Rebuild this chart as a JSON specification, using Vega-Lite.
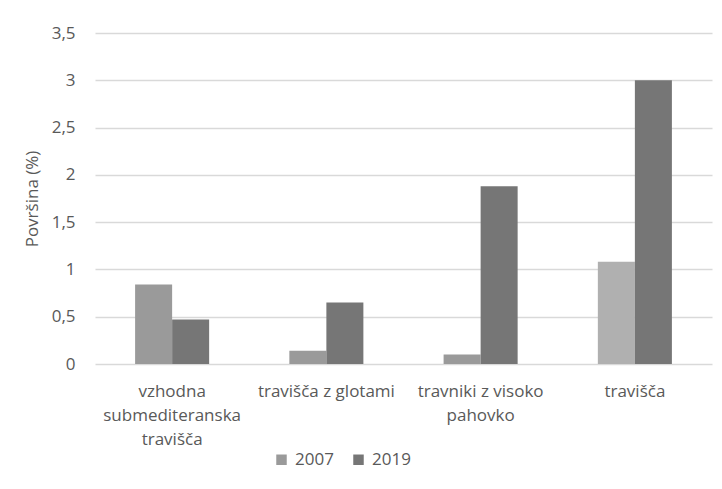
{
  "$schema": "https://vega.github.io/schema/vega-lite/v6.json",
  "width": 617,
  "height": 331,
  "autosize": {"type": "none"},
  "padding": {"left": 95, "top": 33, "right": 10, "bottom": 125},
  "background": "white",
  "data": {
    "values": [
      {"kategorija": "vzhodna submediteranska travišča", "leto": "2007", "povrsina": 0.84},
      {"kategorija": "vzhodna submediteranska travišča", "leto": "2019", "povrsina": 0.47},
      {"kategorija": "travišča z glotami", "leto": "2007", "povrsina": 0.14},
      {"kategorija": "travišča z glotami", "leto": "2019", "povrsina": 0.65},
      {"kategorija": "travniki z visoko pahovko", "leto": "2007", "povrsina": 0.10},
      {"kategorija": "travniki z visoko pahovko", "leto": "2019", "povrsina": 1.88},
      {"kategorija": "travišča", "leto": "2007", "povrsina": 1.08},
      {"kategorija": "travišča", "leto": "2019", "povrsina": 3.0}
    ]
  },
  "mark": {"type": "bar"},
  "encoding": {
    "x": {
      "field": "kategorija",
      "type": "nominal",
      "sort": null,
      "title": null,
      "scale": {"paddingInner": 0.52, "paddingOuter": 0.26},
      "axis": {
        "labelAngle": 0,
        "domain": false,
        "ticks": false,
        "labelPadding": 19,
        "labelFont": "Open Sans",
        "labelFontSize": 17,
        "labelColor": "#595959",
        "labelLineHeight": 24,
        "labelLimit": 0,
        "labelExpr": "datum.value == 'vzhodna submediteranska travišča' ? ['vzhodna', 'submediteranska', 'travišča'] : datum.value == 'travniki z visoko pahovko' ? ['travniki z visoko', 'pahovko'] : datum.value"
      }
    },
    "xOffset": {"field": "leto", "type": "nominal", "scale": {"paddingInner": 0, "paddingOuter": 0}},
    "y": {
      "field": "povrsina",
      "type": "quantitative",
      "title": "Površina (%)",
      "scale": {"domain": [0, 3.5], "nice": false},
      "axis": {
        "values": [0, 0.5, 1, 1.5, 2, 2.5, 3, 3.5],
        "labelExpr": "replace(toString(datum.value), '.', ',')",
        "domain": false,
        "ticks": false,
        "labelPadding": 20,
        "labelFont": "Open Sans",
        "labelFontSize": 17,
        "labelColor": "#595959",
        "titleFont": "Open Sans",
        "titleFontSize": 17,
        "titleFontWeight": "normal",
        "titleColor": "#595959",
        "titlePadding": 10,
        "gridColor": "#d9d9d9",
        "gridWidth": 1.5
      }
    },
    "color": {
      "condition": {"test": "datum.kategorija == 'travišča' && datum.leto == '2007'", "value": "#b0b0b0"},
      "field": "leto",
      "type": "nominal",
      "scale": {"domain": ["2007", "2019"], "range": ["#9a9a9a", "#767676"]},
      "legend": {
        "title": null,
        "orient": "none",
        "direction": "horizontal",
        "legendX": 178,
        "legendY": 418,
        "symbolType": "square",
        "symbolSize": 110,
        "symbolStrokeWidth": 0,
        "symbolOpacity": 1,
        "labelFont": "Open Sans",
        "labelFontSize": 17,
        "labelColor": "#595959",
        "labelOffset": 5,
        "columnPadding": 16
      }
    }
  },
  "config": {
    "view": {"stroke": null}
  }
}
